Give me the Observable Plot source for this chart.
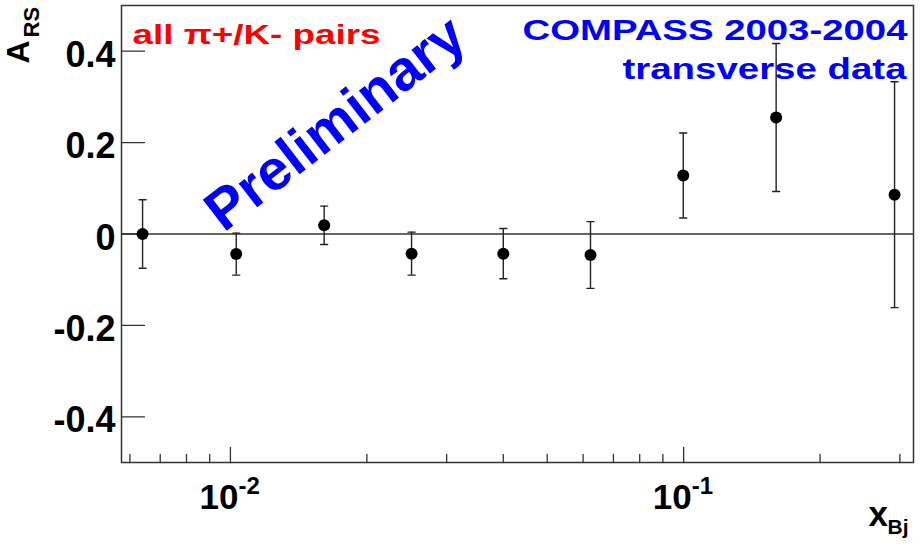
<!DOCTYPE html>
<html>
<head>
<meta charset="utf-8">
<script src="https://cdn.jsdelivr.net/npm/d3@7"></script>
<script src="https://cdn.jsdelivr.net/npm/@observablehq/plot@0.6"></script>
<style>
  html, body { margin: 0; padding: 0; background: #fff; }
  #chart svg { display: block; }
</style>
</head>
<body>
<div id="chart"></div>
<script>
// Bjorken-x bins and the measured asymmetry A_RS with its statistical error
const xBj = [0.0064, 0.0103, 0.0161, 0.0251, 0.0400, 0.0623, 0.0998, 0.1600, 0.2920];
const ars = [0.000, -0.044, 0.019, -0.043, -0.043, -0.046, 0.128, 0.255, 0.086];
const err = [0.075, 0.046, 0.042, 0.047, 0.055, 0.073, 0.093, 0.162, 0.247];

// axis ticks
const yTicks = [-0.4, -0.2, 0, 0.2, 0.4];
const xMajor = [0.01, 0.1];
const xMajorExp = ["-2", "-1"];
const xMinor = [0.006, 0.007, 0.008, 0.009, 0.02, 0.03, 0.04, 0.05, 0.06, 0.07, 0.08, 0.09, 0.2, 0.3];

const points = xBj.map((x, i) => ({x, y: ars[i], lo: ars[i] - err[i], hi: ars[i] + err[i]}));

const font = "'Liberation Sans', Arial, Helvetica, sans-serif";
const ink = "#333";
const yMin = -0.5, xMin = 0.00575;

// plain straight segment (no arrow head) for ticks and error-bar caps
const stroke = {draw(context, l) { context.moveTo(0, 0); context.lineTo(0, -l); }};

const chart = Plot.plot({
  width: 922,
  height: 556,
  marginLeft: 121,
  marginRight: 9,
  marginTop: 5,
  marginBottom: 94,
  style: {fontFamily: font, background: "#fff"},
  x: {type: "log", domain: [xMin, 0.3215], axis: null},
  y: {domain: [yMin, 0.5], axis: null},
  marks: [
    // y tick labels
    Plot.axisY(yTicks, {
      tickSize: 0, tickPadding: 6, dy: 4,
      tickFormat: d => d === 0 ? "0" : String(d),
      fontSize: 36, fontWeight: "bold", fill: "#000"
    }),
    // inward y ticks
    Plot.vector(yTicks, {x: () => xMin, y: d => d, rotate: 90, length: 23, anchor: "start", shape: stroke, stroke: ink, strokeWidth: 1.3}),
    // inward x ticks: decades long, others short
    Plot.vector(xMajor, {x: d => d, y: () => yMin, rotate: 0, length: 15, anchor: "start", shape: stroke, stroke: ink, strokeWidth: 1.3}),
    Plot.vector(xMinor, {x: d => d, y: () => yMin, rotate: 0, length: 8, anchor: "start", shape: stroke, stroke: ink, strokeWidth: 1.3}),
    // x tick labels 10^n
    Plot.text(xMajor, {x: d => d, frameAnchor: "bottom", text: () => "10", textAnchor: "end", lineAnchor: "bottom",
      dx: 8, dy: 46, fontSize: 35, fontWeight: "bold", fill: "#000"}),
    Plot.text(xMajor, {x: d => d, frameAnchor: "bottom", text: (d, i) => xMajorExp[i], textAnchor: "start", lineAnchor: "bottom",
      dx: 8, dy: 31, fontSize: 24, fontWeight: "bold", fill: "#000"}),
    // zero line
    Plot.ruleY([0], {stroke: ink, strokeWidth: 1.3}),
    // error bars with caps
    Plot.ruleX(points, {x: "x", y1: "lo", y2: "hi", stroke: "#222", strokeWidth: 1.4}),
    Plot.vector(points, {x: "x", y: "lo", rotate: 90, length: 7, anchor: "middle", shape: stroke, stroke: "#222", strokeWidth: 1.4}),
    Plot.vector(points, {x: "x", y: "hi", rotate: 90, length: 7, anchor: "middle", shape: stroke, stroke: "#222", strokeWidth: 1.4}),
    // data points
    Plot.dot(points, {x: "x", y: "y", r: 6, fill: "#000", stroke: null}),
    // frame
    Plot.frame({stroke: ink, strokeWidth: 1.5}),
    // annotations
    Plot.text(["all \u03c0+/K- pairs"], {frameAnchor: "top-left", textAnchor: "start", lineAnchor: "bottom",
      dx: 11, dy: 38, fontSize: 28, fontWeight: "bold", fill: "#ff0000", className: "wide-248"}),
    Plot.text(["COMPASS 2003-2004"], {frameAnchor: "top-right", textAnchor: "end", lineAnchor: "bottom",
      dx: -6, dy: 34, fontSize: 29, fontWeight: "bold", fill: "#0000ff", className: "wide-385"}),
    Plot.text(["transverse data"], {frameAnchor: "top-right", textAnchor: "end", lineAnchor: "bottom",
      dx: -7, dy: 73, fontSize: 29, fontWeight: "bold", fill: "#0000ff", className: "wide-284"}),
    Plot.text(["Preliminary"], {frameAnchor: "top-left", textAnchor: "middle", lineAnchor: "middle",
      dx: 214, dy: 118, rotate: -37.7, fontSize: 57, fontWeight: "bold", fill: "#0000ff"}),
    // axis titles
    Plot.text(["A"], {frameAnchor: "top-left", textAnchor: "start", lineAnchor: "bottom",
      dx: -93, dy: 58, rotate: -90, fontSize: 32, fontWeight: "bold", fill: "#000"}),
    Plot.text(["RS"], {frameAnchor: "top-left", textAnchor: "start", lineAnchor: "bottom",
      dx: -83, dy: 32, rotate: -90, fontSize: 22, fontWeight: "bold", fill: "#000"}),
    Plot.text(["x"], {frameAnchor: "bottom-right", textAnchor: "start", lineAnchor: "bottom",
      dx: -45, dy: 63, fontSize: 35, fontWeight: "bold", fill: "#000"}),
    Plot.text(["Bj"], {frameAnchor: "bottom-right", textAnchor: "start", lineAnchor: "bottom",
      dx: -26, dy: 71, fontSize: 21, fontWeight: "bold", fill: "#000"})
  ]
});

// the labels are set in a wide bold face: stretch them to their full width
for (const w of [248, 385, 284]) {
  d3.select(chart).selectAll(`.wide-${w} text`)
    .attr("textLength", w)
    .attr("lengthAdjust", "spacingAndGlyphs");
}
document.getElementById("chart").appendChild(chart);
</script>
</body>
</html>
